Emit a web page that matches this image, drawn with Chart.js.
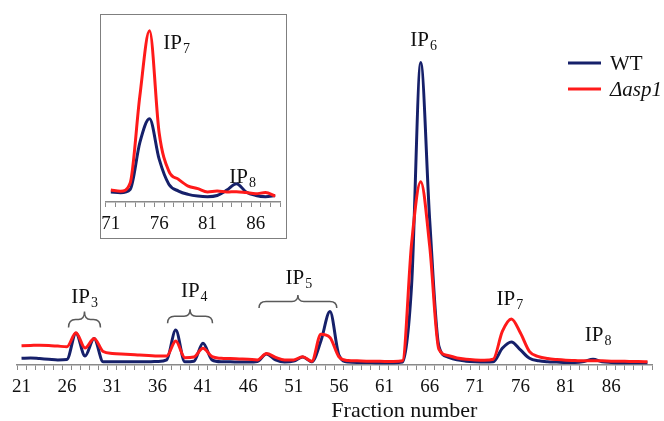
<!DOCTYPE html>
<html><head><meta charset="utf-8">
<script src="https://cdn.jsdelivr.net/npm/chart.js@4"></script>
<style>
html,body{margin:0;padding:0;background:#fff;}
#wrap{position:relative;width:664px;height:421px;overflow:hidden;}
#main{position:absolute;left:0;top:0;}
#insetBox{position:absolute;left:100px;top:14px;width:187px;height:225px;box-sizing:border-box;border:1.5px solid #7f7f7f;background:#fff;}
#inset{position:absolute;left:0;top:0;}
</style></head>
<body>
<div id="wrap">
<canvas id="main" width="664" height="421"></canvas>
<div id="insetBox"><canvas id="inset" width="184" height="222"></canvas></div>
</div>
<script>
// ---------- data ----------
const fractions = [21,22,23,24,25,26,27,28,29,30,31,32,33,34,35,36,37,38,39,40,
  41,42,43,44,45,46,47,48,49,50,51,52,53,54,55,56,57,58,59,60,
  61,62,63,64,65,66,67,68,69,70,71,72,73,74,75,76,77,78,79,80,
  81,82,83,84,85,86,87,88,89,90];
const wtValues = [2.1,2.2,2.0,1.8,1.6,1.7,9.9,2.8,8.3,1.0,
  1.0,1.0,1.0,1.0,1.0,1.1,1.6,10.9,1.0,1.2,
  6.8,1.6,1.0,1.0,0.9,0.9,1.1,3.4,1.6,0.9,
  1.2,2.5,1.0,7.5,16.7,3.0,0.9,0.8,0.8,0.7,
  0.7,0.7,0.9,25,94.5,45,6,2.5,1.6,1.2,
  1.0,0.9,1.0,5.2,7.2,4.7,2.1,1.3,1.0,0.9,
  0.8,0.8,1.1,1.8,1.0,0.8,0.7,0.7,0.7,0.7];
const asp1Values = [6.0,6.1,6.2,6.1,5.9,5.7,10.1,5.3,8.3,4.2,
  3.6,3.4,3.3,3.1,3.0,2.8,2.8,7.5,2.3,2.5,
  5.2,2.6,2.1,2.0,1.9,1.8,1.6,3.6,2.4,1.6,
  1.6,2.6,1.2,9.6,8.6,2.5,1.4,1.3,1.2,1.2,
  1.1,1.1,1.3,38,57.3,37,5,3,2.2,1.8,
  1.6,1.5,1.8,10.5,14.4,10,4.2,2.6,2.0,1.7,
  1.5,1.4,1.3,1.3,1.3,1.2,1.2,1.1,1.1,1.0];
const tickLabels = ['21','26','31','36','41','46','51','56','61','66','71','76','81','86'];

const insetFractions = [71,72,73,74,75,76,77,78,79,80,81,82,83,84,85,86,87,88];
const insetWT   = [0.84,0.78,1.06,5.0,7.0,3.6,1.5,0.92,0.64,0.5,0.45,0.55,1.0,1.54,0.84,0.55,0.45,0.55];
const insetAsp1 = [1.0,0.9,1.6,8.9,14.4,5.8,2.6,1.9,1.34,1.12,0.84,0.92,0.84,0.87,0.79,0.7,0.79,0.5];
const insetTickLabels = ['71','76','81','86'];

const seriesNames = ['WT', 'Δasp1'];

// annotation anchors in data coordinates (fraction, value)
const mainPeakLabels = [
  {sub:'3', f:26.48, v:19.3}, {sub:'4', f:38.57, v:21.2}, {sub:'5', f:50.11, v:25.2},
  {sub:'6', f:63.85, v:99.7}, {sub:'7', f:73.37, v:18.75}, {sub:'8', f:83.09, v:7.5}
];
const mainBraces = [
  {from:26.18, to:29.70, v:16.7, h:16}, {from:37.10, to:42.05, v:17.4, h:14}, {from:47.18, to:55.75, v:21.9, h:13}
];
const insetPeakLabels = [{sub:'7', f:76.43, v:12.85}, {sub:'8', f:83.25, v:1.62}];

// ---------- styles ----------
const NAVY = '#16206a';
const RED = '#ff1a1a';
const SERIF = '"Liberation Serif", "Times New Roman", serif';

function drawIP(ctx, x, y, sub) {
  ctx.save();
  ctx.fillStyle = '#111';
  ctx.textAlign = 'left';
  ctx.textBaseline = 'alphabetic';
  ctx.font = '21px ' + SERIF;
  ctx.fillText('IP', x, y);
  const w = ctx.measureText('IP').width;
  ctx.font = '14px ' + SERIF;
  ctx.fillText(sub, x + w + 1, y + 4);
  ctx.restore();
}
function drawBrace(ctx, x1, x2, yt, h) {
  const xc = (x1 + x2) / 2, ym = yt + h * 0.5, yb = yt + h;
  const r = 7, r2 = 6;
  ctx.save();
  ctx.strokeStyle = '#5a5a5a';
  ctx.lineWidth = 1.5;
  ctx.beginPath();
  ctx.moveTo(x1, yb);
  ctx.quadraticCurveTo(x1, ym, x1 + r, ym);
  ctx.lineTo(xc - r2, ym);
  ctx.quadraticCurveTo(xc, ym, xc, yt);
  ctx.quadraticCurveTo(xc, ym, xc + r2, ym);
  ctx.lineTo(x2 - r, ym);
  ctx.quadraticCurveTo(x2, ym, x2, yb);
  ctx.stroke();
  ctx.restore();
}

function makeAnnot(labels, braces, first) {
  return {
    id: 'annot',
    afterDraw(chart) {
      const ctx = chart.ctx, xs = chart.scales.x, ys = chart.scales.y;
      labels.forEach(l => drawIP(ctx, xs.getPixelForValue(l.f - first), ys.getPixelForValue(l.v), l.sub));
      braces.forEach(b => drawBrace(ctx, xs.getPixelForValue(b.from - first), xs.getPixelForValue(b.to - first), ys.getPixelForValue(b.v), b.h));
    }
  };
}

const mainExtras = {
  id: 'mainExtras',
  afterDraw(chart) {
    const ctx = chart.ctx, area = chart.chartArea;
    ctx.save();
    // axis title
    ctx.fillStyle = '#111';
    ctx.font = '22px ' + SERIF;
    ctx.textAlign = 'center';
    ctx.textBaseline = 'alphabetic';
    ctx.fillText('Fraction number', area.left + (area.right - area.left) * 0.61, 417);
    // legend
    const items = [[seriesNames[0], NAVY, 'normal'], [seriesNames[1], RED, 'italic']];
    items.forEach((it, i) => {
      const y = 63 + i * 26;
      ctx.strokeStyle = it[1];
      ctx.lineWidth = 3;
      ctx.beginPath(); ctx.moveTo(568, y); ctx.lineTo(601, y); ctx.stroke();
      ctx.fillStyle = '#111';
      ctx.font = it[2] + ' 21px ' + SERIF;
      ctx.textAlign = 'left';
      ctx.fillText(it[0], 610, y + 7);
    });
    ctx.restore();
  }
};

function xScale(labelsShown, tickLen, pad, height) {
  return {
    type: 'category', offset: true,
    grid: {offset: true, drawOnChartArea: false, drawTicks: true, tickLength: tickLen, color: '#8a8a8a', lineWidth: 1},
    border: {display: true, color: '#8a8a8a', width: 1.5},
    ticks: {autoSkip: false, maxRotation: 0, minRotation: 0, padding: pad, color: '#111',
      font: {family: SERIF, size: 19},
      callback: function(v) { const l = this.getLabelForValue(v); return labelsShown.includes(l) ? l : ''; }},
    afterFit(s) { s.height = height; s.paddingLeft = 0; s.paddingRight = 0; }
  };
}

function lineDS(label, data, color, order) {
  return {label, data, borderColor: color, backgroundColor: color, borderWidth: 3, pointRadius: 0,
    cubicInterpolationMode: 'monotone', fill: false, order};
}

new Chart(document.getElementById('main'), {
  type: 'line',
  data: {labels: fractions.map(String), datasets: [
    lineDS(seriesNames[0], wtValues, NAVY, 1),
    lineDS(seriesNames[1], asp1Values, RED, 0)
  ]},
  options: {
    responsive: false, animation: false, events: [],
    layout: {padding: {left: 17, right: 12, top: 45, bottom: 0}},
    plugins: {legend: {display: false}, tooltip: {enabled: false}},
    scales: {x: xScale(tickLabels, 5, 6, 56), y: {display: false, min: 0, max: 100}}
  },
  plugins: [makeAnnot(mainPeakLabels, mainBraces, fractions[0]), mainExtras]
});

new Chart(document.getElementById('inset'), {
  type: 'line',
  data: {labels: insetFractions.map(String), datasets: [
    lineDS(seriesNames[0], insetWT, NAVY, 1),
    lineDS(seriesNames[1], insetAsp1, RED, 0)
  ]},
  options: {
    responsive: false, animation: false, events: [],
    layout: {padding: {left: 5, right: 5, top: 5, bottom: 0}},
    plugins: {legend: {display: false}, tooltip: {enabled: false}},
    scales: {x: xScale(insetTickLabels, 5, 6, 35), y: {display: false, min: 0, max: 15.3}}
  },
  plugins: [makeAnnot(insetPeakLabels, [], insetFractions[0])]
});
</script>
</body></html>
